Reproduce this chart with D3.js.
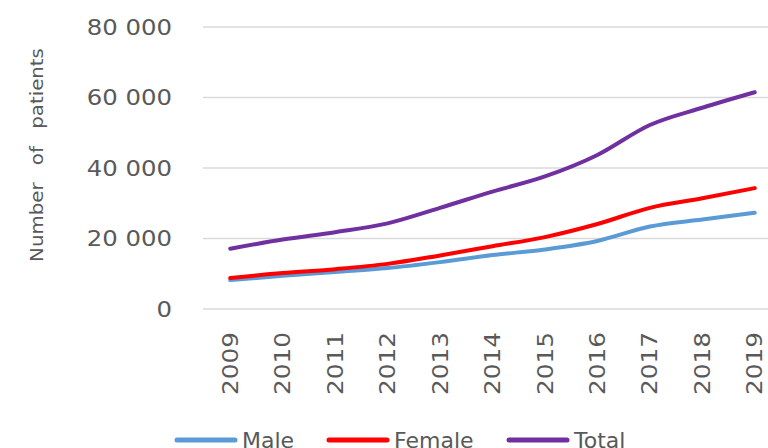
<!DOCTYPE html>
<html>
<head>
<meta charset="utf-8">
<script src="https://cdn.jsdelivr.net/npm/d3@7"></script>
<style>
  body { margin: 0; background: #fff; }
  text { font-family: "DejaVu Sans", sans-serif; fill: #595959; }
</style>
</head>
<body>
<div id="chart"></div>
<script>
const years = ["2009", "2010", "2011", "2012", "2013", "2014", "2015", "2016", "2017", "2018", "2019"];
const male = [8200, 9400, 10500, 11600, 13300, 15300, 16900, 19300, 23400, 25400, 27300];
const female = [8800, 10200, 11300, 12800, 15200, 17800, 20400, 24100, 28700, 31400, 34300];
const total = [17100, 19700, 21800, 24300, 28700, 33300, 37600, 43700, 52200, 57100, 61500];
const yTicks = [0, 20000, 40000, 60000, 80000];
const seriesNames = ["Male", "Female", "Total"];
const seriesColors = ["#5b9bd5", "#ff0000", "#7030a0"];

const width = 768, height = 448;
const svg = d3.select("#chart").append("svg")
  .attr("width", width)
  .attr("height", height);

const x = d3.scalePoint()
  .domain(years)
  .range([204, 781])
  .padding(0.5);

const y = d3.scaleLinear()
  .domain([0, 80000])
  .range([309, 27]);

const fmt = d3.formatLocale({ decimal: ".", thousands: " ", grouping: [3], currency: ["", ""] }).format(",");

// gridlines
svg.append("g").selectAll("line")
  .data(yTicks)
  .join("line")
    .attr("x1", 203)
    .attr("x2", width)
    .attr("y1", d => y(d))
    .attr("y2", d => y(d))
    .attr("stroke", "#d9d9d9")
    .attr("stroke-width", 1.5);

// y tick labels (glyphs in the picture are wide, so stretch a bit)
svg.append("g").selectAll("text")
  .data(yTicks)
  .join("text")
    .attr("transform", d => `translate(172,${y(d)}) scale(1.16,1)`)
    .attr("dy", "0.36em")
    .attr("text-anchor", "end")
    .style("font-size", "21px")
    .text(d => fmt(d));

// y axis title
svg.append("text")
  .attr("transform", "translate(43,155) rotate(-90) scale(1.1,1)")
  .attr("text-anchor", "middle")
  .style("font-size", "18px")
  .style("word-spacing", "10px")
  .text("Number of patients");

// x tick labels
svg.append("g").selectAll("text")
  .data(years)
  .join("text")
    .attr("transform", d => `translate(${x(d)},332) rotate(-90) scale(1.18,1)`)
    .attr("text-anchor", "end")
    .attr("dy", "0.36em")
    .style("font-size", "21px")
    .text(d => d);

// lines
const series = [male, female, total];
const line = d3.line()
  .x((d, i) => x(years[i]))
  .y(d => y(d))
  .curve(d3.curveMonotoneX);

svg.append("g").selectAll("path")
  .data(series)
  .join("path")
    .attr("d", d => line(d))
    .attr("fill", "none")
    .attr("stroke", (d, i) => seriesColors[i])
    .attr("stroke-width", 4)
    .attr("stroke-linecap", "round");

// legend
const legendX = [177, 329, 509];
const legend = svg.append("g").selectAll("g")
  .data(seriesNames)
  .join("g")
    .attr("transform", (d, i) => `translate(${legendX[i]},440)`);

legend.append("line")
  .attr("x1", 0)
  .attr("x2", 58)
  .attr("stroke", (d, i) => seriesColors[i])
  .attr("stroke-width", 5)
  .attr("stroke-linecap", "round");

legend.append("text")
  .attr("x", 65)
  .attr("dy", "0.36em")
  .style("font-size", "22px")
  .text(d => d);
</script>
</body>
</html>
